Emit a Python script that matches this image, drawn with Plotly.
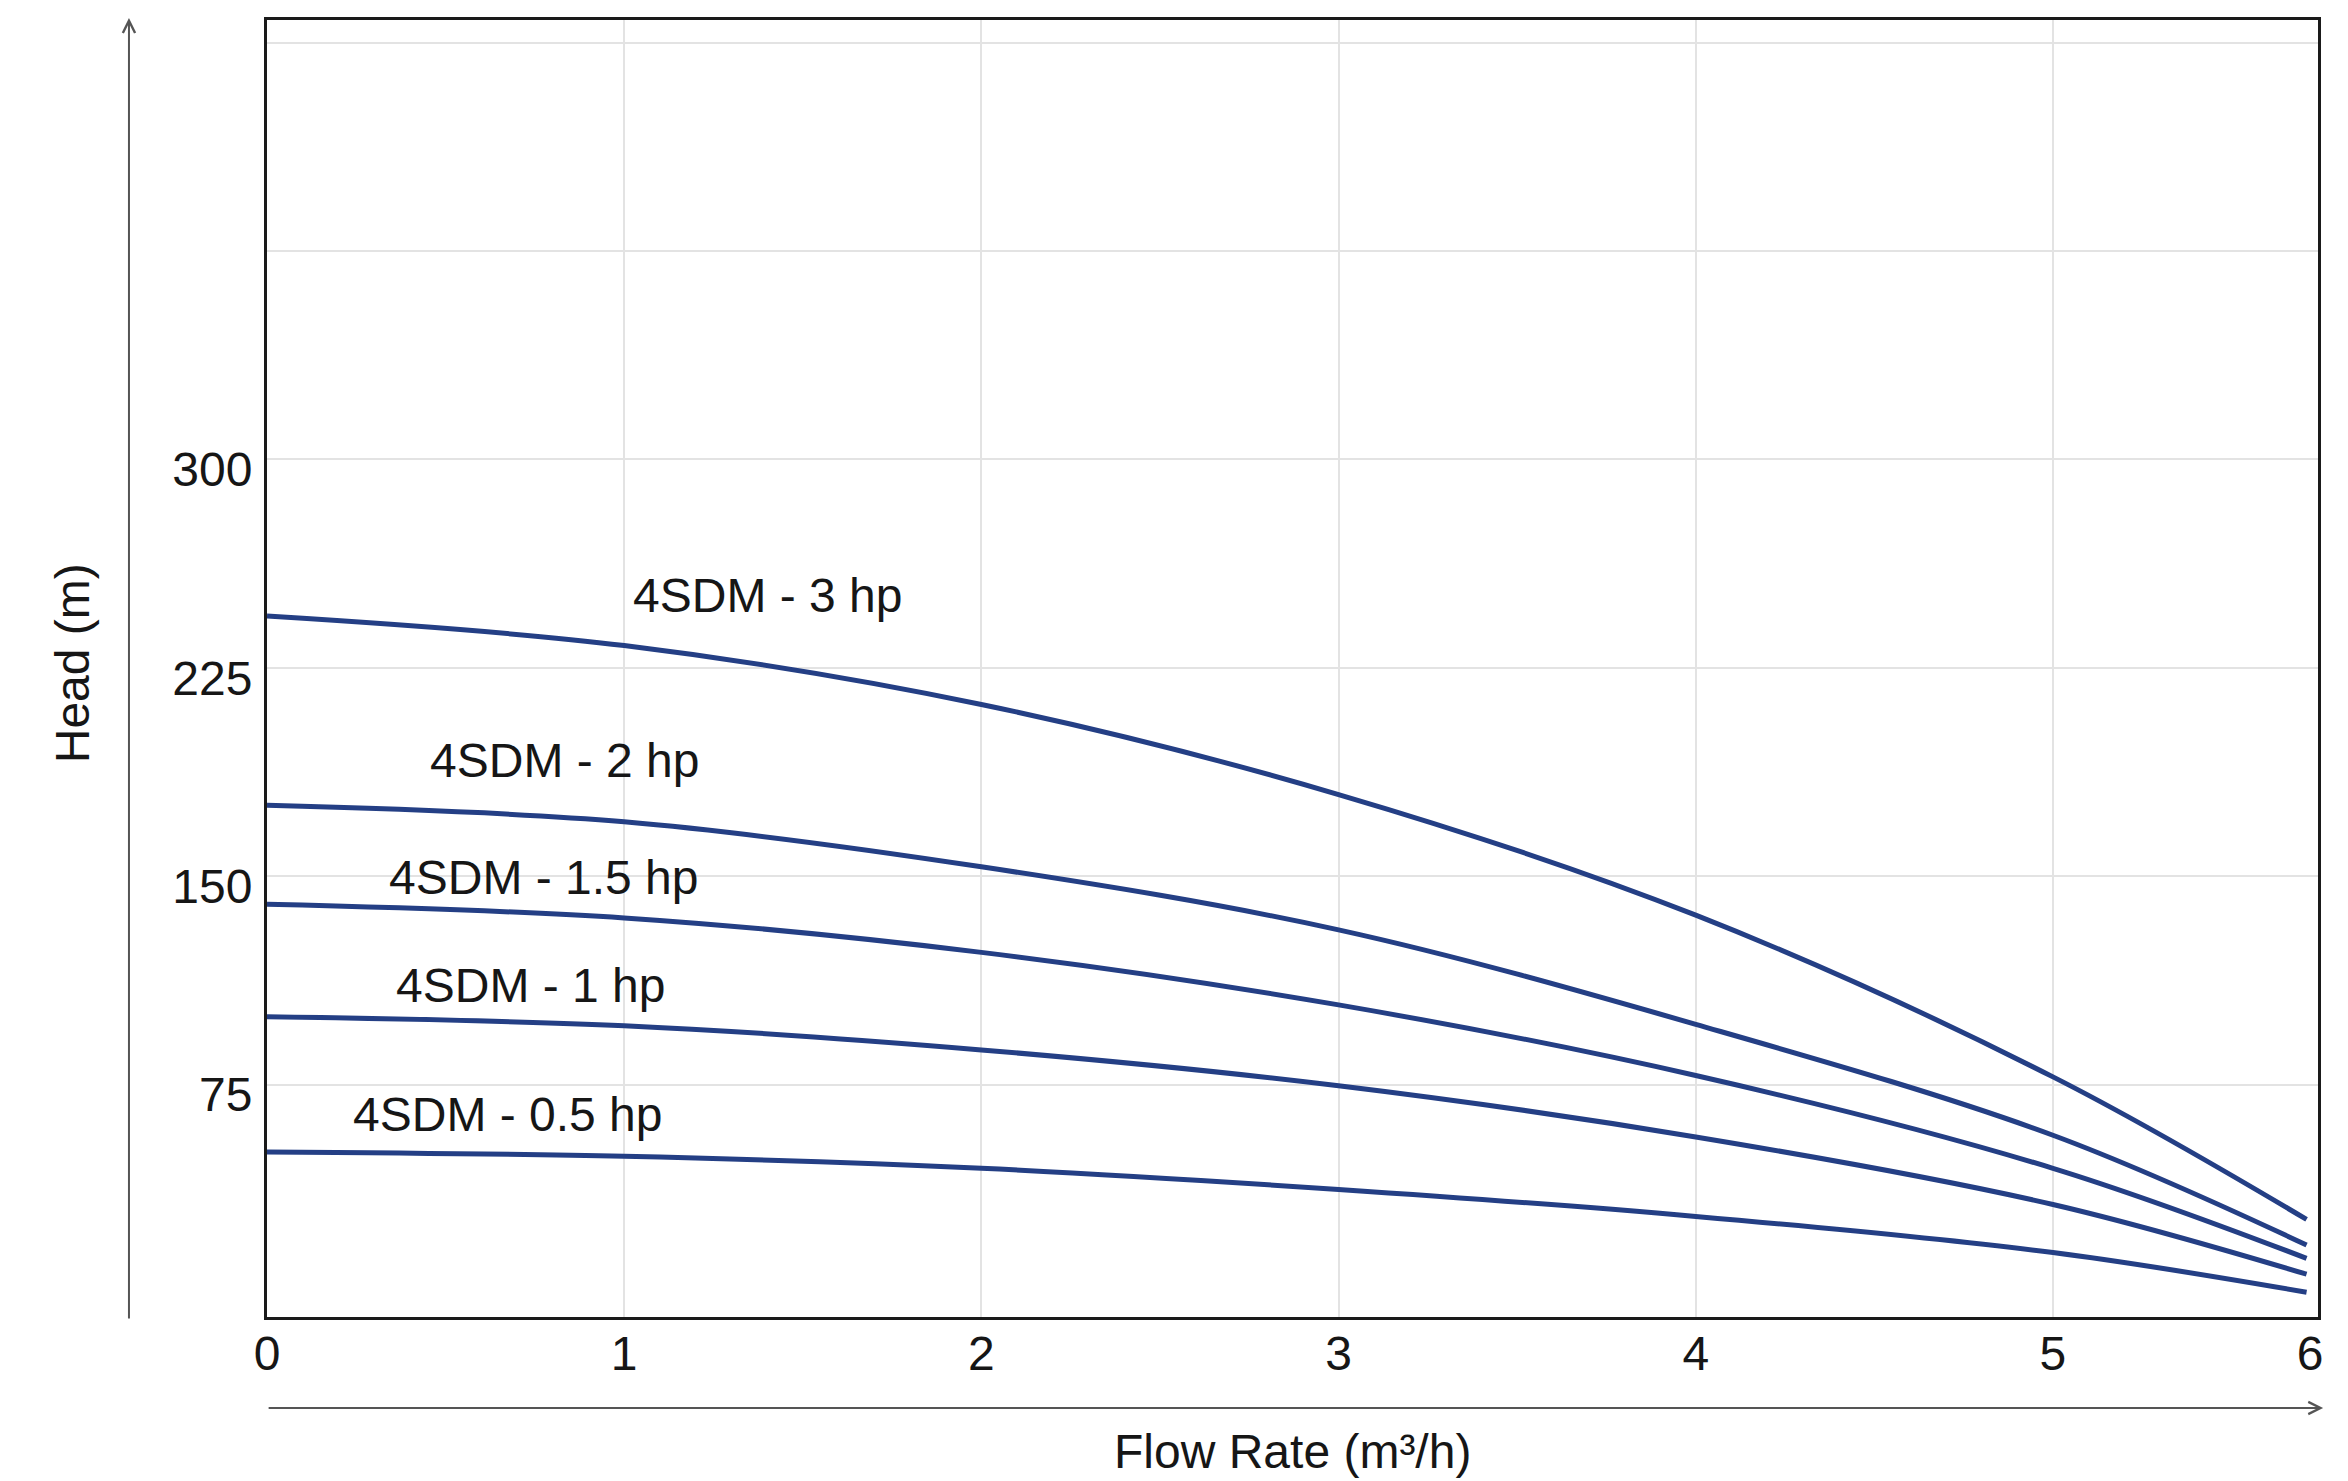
import plotly.graph_objects as go

# ---- data ----
flow = [0, 1, 2, 3, 4, 5, 5.71]
head_3hp = [243.6, 233.0, 211.8, 179.4, 136.0, 77.8, 26.5]
head_2hp = [175.5, 169.6, 153.4, 130.7, 96.7, 56.8, 17.3]
head_15hp = [139.9, 135.0, 122.6, 103.7, 78.3, 44.9, 12.5]
head_1hp = [99.4, 96.2, 87.5, 74.6, 56.2, 31.9, 6.8]
head_05hp = [50.8, 49.2, 44.9, 37.3, 27.6, 14.6, 0.3]

series_names = ["4SDM - 3 hp", "4SDM - 2 hp", "4SDM - 1.5 hp", "4SDM - 1 hp", "4SDM - 0.5 hp"]
series_values = [head_3hp, head_2hp, head_15hp, head_1hp, head_05hp]
label_x = [1.40, 0.834, 0.773, 0.739, 0.674]
label_y = [251.0, 191.6, 149.5, 110.6, 64.2]

x_tickvals = [0, 1, 2, 3, 4, 5, 5.72]
x_ticktext = ["0", "1", "2", "3", "4", "5", "6"]
x_gridvals = [1, 2, 3, 4, 5]
y_tickvals = [75, 150, 225, 300, 375, 450]
y_ticktext = ["75", "150", "225", "300", "", ""]

FONT = "Liberation Sans, Arial, sans-serif"
LINE_COLOR = "#243f85"
TXT = "#161616"

fig = go.Figure()
for name, vals in zip(series_names, series_values):
    fig.add_trace(go.Scatter(x=flow, y=vals, mode="lines", name=name,
                             line=dict(color=LINE_COLOR, width=5, shape="spline", smoothing=1.0),
                             showlegend=False, hoverinfo="skip"))

for name, lx, ly in zip(series_names, label_x, label_y):
    fig.add_annotation(x=lx, y=ly, xref="x", yref="y", text=name, showarrow=False,
                       font=dict(family=FONT, size=48, color=TXT), xanchor="center", yanchor="middle")

# axis titles
fig.add_annotation(x=-0.0951, y=0.504, xref="paper", yref="paper", text="Head (m)", textangle=-90,
                   showarrow=False, font=dict(family=FONT, size=48, color=TXT),
                   xanchor="center", yanchor="middle")
fig.add_annotation(x=0.5002, y=-0.104, xref="paper", yref="paper", text="Flow Rate (m³/h)",
                   showarrow=False, font=dict(family=FONT, size=48, color=TXT),
                   xanchor="center", yanchor="middle")

# arrows
fig.add_annotation(x=-0.0673, y=1.0015, xref="paper", yref="paper", text="", showarrow=True,
                   ax=0, ay=1302, axref="pixel", ayref="pixel",
                   arrowhead=5, arrowsize=1.2, arrowwidth=2, arrowcolor="#555555")
fig.add_annotation(x=1.0025, y=-0.0702, xref="paper", yref="paper", text="", showarrow=True,
                   ax=-2056, ay=0, axref="pixel", ayref="pixel",
                   arrowhead=5, arrowsize=1.2, arrowwidth=2, arrowcolor="#555555")

fig.update_xaxes(range=[0, 5.742], tickmode="array", tickvals=x_tickvals, ticktext=x_ticktext,
                 showgrid=False, zeroline=False, ticks="",
                 showline=True, mirror=True, linecolor="#1a1a1a", linewidth=3,
                 tickfont=dict(family=FONT, size=48, color=TXT), ticklabelstandoff=-8,
                 minor=dict(tickmode="array", tickvals=x_gridvals, showgrid=True,
                            gridcolor="#e3e3e3", gridwidth=2, ticks=""))
fig.update_yaxes(range=[-8.6, 458.1], tickmode="array", tickvals=y_tickvals, ticktext=y_ticktext,
                 showgrid=True, gridcolor="#e3e3e3", gridwidth=2, zeroline=False, ticks="",
                 showline=True, mirror=True, linecolor="#1a1a1a", linewidth=3,
                 tickfont=dict(family=FONT, size=48, color=TXT), ticklabelstandoff=2,
                 ticklabelshift=10)

fig.update_layout(width=2348, height=1481, autosize=False,
                  margin=dict(l=267, r=30, t=20, b=164, pad=0),
                  paper_bgcolor="white", plot_bgcolor="white",
                  font=dict(family=FONT, size=48, color=TXT))

fig.write_html("out.html", config={"displayModeBar": False},
               post_script="document.body.style.margin='0';document.body.style.overflow='hidden';")
